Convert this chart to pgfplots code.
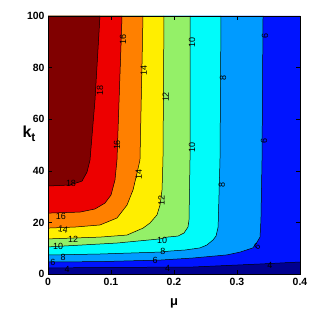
\documentclass[border=0pt]{standalone}
\usepackage{pgfplots}
\pgfplotsset{compat=1.18}
\usepackage{fontspec}
\setmainfont{Liberation Sans}
\definecolor{cnavy}{RGB}{0,0,143}
\definecolor{cblue}{RGB}{0,20,255}
\definecolor{clblue}{RGB}{0,155,255}
\definecolor{ccyan}{RGB}{0,252,250}
\definecolor{cgreen}{RGB}{148,240,104}
\definecolor{cyellow}{RGB}{255,238,0}
\definecolor{corange}{RGB}{255,128,0}
\definecolor{cred}{RGB}{237,0,0}
\definecolor{cdred}{RGB}{128,0,0}
\begin{document}
\begin{tikzpicture}
\path[use as bounding box] (-48bp,-50bp) rectangle (272bp,274bp);
\begin{axis}[
  at={(0,0)}, anchor=south west,
  scale only axis, width=252bp, height=258bp,
  xmin=0, xmax=0.4, ymin=0, ymax=100,
  xtick={0,0.1,0.2,0.3,0.4},
  xticklabels={0,0.1,0.2,0.3,0.4},
  ytick={0,20,40,60,80,100},
  tick align=inside,
  major tick length=4bp,
  tick style={black, line width=0.4pt},
  axis line style={black, line width=0.6pt},
  ticklabel style={font=\fontsize{10.5}{12}\selectfont\bfseries},
  /pgf/number format/assume math mode=true,
  xticklabel style={yshift=-1bp},
  axis on top,
  clip=true,
  every axis plot/.append style={line width=0.5pt},
]
% background band (<4)
\addplot[fill=cnavy, draw=none] coordinates {(0,0)(0.4,0)(0.4,100)(0,100)};
% >=4
\addplot[fill=cblue, draw=none] coordinates {(0,2.33)(0.0825,2.52)(0.230,2.71)(0.3365,3.88)(0.4,4.65)(0.4,100)(0,100)};
% >=6
\addplot[fill=clblue, draw=none] coordinates {(0.3413,100)(0.3397,44.2)(0.338,20.9)(0.3365,14.3)(0.330,11.6)(0.325,10.1)(0.305,8.5)(0.284,7.4)(0.230,6.2)(0.178,5.4)(0.0825,4.8)(0,4.65)(0,100)};
% >=8
\addplot[fill=ccyan, draw=none] coordinates {(0.2746,100)(0.273,44.2)(0.270,18.2)(0.2667,14.7)(0.262,13.2)(0.252,11.2)(0.241,10.1)(0.2175,9.3)(0.1937,8.9)(0.178,8.5)(0.0825,7.75)(0,7.36)(0,100)};
% >=10
\addplot[fill=cgreen, draw=none] coordinates {(0.2254,100)(0.2254,44.2)(0.2238,20.9)(0.2222,18.2)(0.2159,15.9)(0.2063,14.7)(0.1889,14.3)(0.1778,13.6)(0.1095,12.0)(0,10.5)(0,100)};
% >=12
\addplot[fill=cyellow, draw=none] coordinates {(0.1841,100)(0.1825,44.2)(0.181,32.6)(0.1778,26.7)(0.173,22.9)(0.162,19.8)(0.151,17.8)(0.1254,15.1)(0.0825,14.3)(0,13.6)(0,100)};
% >=14
\addplot[fill=corange, draw=none] coordinates {(0.1508,100)(0.146,44.2)(0.1413,39.1)(0.135,32.6)(0.1254,26.7)(0.1095,21.7)(0.0825,19.0)(0.0429,18.2)(0,17.8)(0,100)};
% >=16
\addplot[fill=cred, draw=none] coordinates {(0.1175,100)(0.1095,44.2)(0.1063,36.4)(0.1,30.6)(0.0905,27.5)(0.0746,25.2)(0.0508,24.0)(0,23.6)(0,100)};
% >=18
\addplot[fill=cdred, draw=none] coordinates {(0.0825,100)(0.0746,67.4)(0.0667,44.2)(0.0619,39.5)(0.054,36.0)(0.0349,34.5)(0,34.1)(0,100)};
% contour lines
\addplot[black] coordinates {(0,2.33)(0.0825,2.52)(0.230,2.71)(0.3365,3.88)(0.4,4.65)};
\addplot[black] coordinates {(0.3413,100)(0.3397,44.2)(0.338,20.9)(0.3365,14.3)(0.330,11.6)(0.325,10.1)(0.305,8.5)(0.284,7.4)(0.230,6.2)(0.178,5.4)(0.0825,4.8)(0,4.65)};
\addplot[black] coordinates {(0.2746,100)(0.273,44.2)(0.270,18.2)(0.2667,14.7)(0.262,13.2)(0.252,11.2)(0.241,10.1)(0.2175,9.3)(0.1937,8.9)(0.178,8.5)(0.0825,7.75)(0,7.36)};
\addplot[black] coordinates {(0.2254,100)(0.2254,44.2)(0.2238,20.9)(0.2222,18.2)(0.2159,15.9)(0.2063,14.7)(0.1889,14.3)(0.1778,13.6)(0.1095,12.0)(0,10.5)};
\addplot[black] coordinates {(0.1841,100)(0.1825,44.2)(0.181,32.6)(0.1778,26.7)(0.173,22.9)(0.162,19.8)(0.151,17.8)(0.1254,15.1)(0.0825,14.3)(0,13.6)};
\addplot[black] coordinates {(0.1508,100)(0.146,44.2)(0.1413,39.1)(0.135,32.6)(0.1254,26.7)(0.1095,21.7)(0.0825,19.0)(0.0429,18.2)(0,17.8)};
\addplot[black] coordinates {(0.1175,100)(0.1095,44.2)(0.1063,36.4)(0.1,30.6)(0.0905,27.5)(0.0746,25.2)(0.0508,24.0)(0,23.6)};
\addplot[black] coordinates {(0.0825,100)(0.0746,67.4)(0.0667,44.2)(0.0619,39.5)(0.054,36.0)(0.0349,34.5)(0,34.1)};
% contour labels
\begin{scope}[every node/.style={font=\fontsize{9}{10}\selectfont, inner sep=0pt}]
\node[rotate=90] at (axis cs:0.0825,71.3) {18};
\node at (axis cs:0.0365,35.3) {18};
\node[rotate=90] at (axis cs:0.119,90.7) {16};
\node[rotate=90] at (axis cs:0.1095,50) {16};
\node at (axis cs:0.0206,22.5) {16};
\node[rotate=90] at (axis cs:0.152,78.7) {14};
\node[rotate=90] at (axis cs:0.144,38.4) {14};
\node[rotate=-10] at (axis cs:0.0238,17.4) {14};
\node[rotate=90] at (axis cs:0.187,68.6) {12};
\node at (axis cs:0.040,13.4) {12};
\node[rotate=90] at (axis cs:0.180,28.5) {12};
\node[rotate=90] at (axis cs:0.2286,89.9) {10};
\node[rotate=90] at (axis cs:0.2286,49.2) {10};
\node at (axis cs:0.0159,10.5) {10};
\node at (axis cs:0.181,13.2) {10};
\node[rotate=90] at (axis cs:0.2778,76) {8};
\node[rotate=90] at (axis cs:0.276,34.5) {8};
\node at (axis cs:0.0238,6.6) {8};
\node at (axis cs:0.1825,8.9) {8};
\node[rotate=90] at (axis cs:0.3444,92.2) {6};
\node[rotate=90] at (axis cs:0.343,51.6) {6};
\node at (axis cs:0.0079,4.65) {6};
\node[rotate=45] at (axis cs:0.332,10.5) {6};
\node at (axis cs:0.170,5.1) {6};
\node at (axis cs:0.0302,1.6) {4};
\node at (axis cs:0.19,2.1) {4};
\node at (axis cs:0.352,3.4) {4};
\end{scope}
\end{axis}
\node[font=\fontsize{16}{18}\selectfont\bfseries] at (-19bp,140bp) {k\raisebox{-0.45ex}{\fontsize{12}{12}\selectfont t}};
\node[font=\fontsize{13}{15}\selectfont\bfseries] at (126bp,-29bp) {μ};
\end{tikzpicture}
\end{document}
